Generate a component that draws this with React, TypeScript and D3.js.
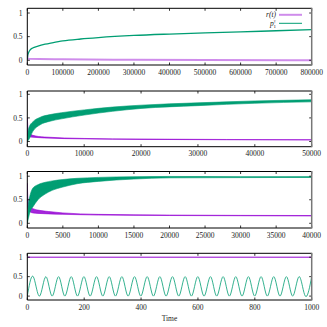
import React from "react";
import * as d3 from "d3";

// ---------- data ----------
// Panel 1 (0..800000)
const p1Green: [number, number][] = [
  [0, 0.02], [1000, 0.1], [3000, 0.15], [7000, 0.21], [15000, 0.26], [30000, 0.3],
  [50000, 0.34], [70000, 0.37], [100000, 0.41], [150000, 0.45], [200000, 0.48],
  [300000, 0.525], [400000, 0.555], [500000, 0.58], [600000, 0.6], [700000, 0.625], [800000, 0.648],
];
const p1Purple: [number, number][] = [
  [0, 0.2], [500, 0.05], [3000, 0.03], [100000, 0.02], [300000, 0.012], [500000, 0.006], [800000, 0.0],
];
// Panel 2 (0..50000): [t, low, high]
const p2Green: [number, number, number][] = [
  [0, 0.0, 0.1], [300, 0.05, 0.3], [1000, 0.22, 0.42], [2200, 0.35, 0.51], [4000, 0.43, 0.57],
  [6000, 0.48, 0.61], [10000, 0.56, 0.67], [15000, 0.64, 0.73], [20000, 0.7, 0.77],
  [30000, 0.76, 0.82], [40000, 0.81, 0.86], [50000, 0.84, 0.885],
];
const p2Purple: [number, number, number][] = [
  [0, 0.15, 0.5], [200, 0.1, 0.2], [1000, 0.09, 0.13], [3000, 0.075, 0.095], [10000, 0.055, 0.065],
  [20000, 0.045, 0.052], [35000, 0.037, 0.043], [50000, 0.032, 0.038],
];
// Panel 3 (0..40000): [t, low, high]
const p3Green: [number, number, number][] = [
  [0, 0, 0.05], [150, 0.1, 0.4], [400, 0.25, 0.6], [800, 0.35, 0.75], [1500, 0.5, 0.82],
  [2500, 0.62, 0.87], [3500, 0.7, 0.9], [5000, 0.77, 0.93], [7000, 0.84, 0.955],
  [10000, 0.89, 0.975], [15000, 0.94, 0.99], [20000, 0.965, 0.995], [30000, 0.97, 0.99], [40000, 0.975, 0.99],
];
const p3Purple: [number, number, number][] = [
  [0, 0.4, 0.85], [100, 0.3, 0.5], [300, 0.25, 0.36], [800, 0.22, 0.31], [1500, 0.21, 0.28],
  [3000, 0.2, 0.25], [5000, 0.19, 0.22], [10000, 0.175, 0.19], [20000, 0.165, 0.175], [40000, 0.155, 0.165],
];
// Panel 4 (0..1000): extremes of the oscillation
const p4PeakTimes = [21, 65.5, 110, 154.5, 199, 243.5, 288, 332.5, 377, 421.5, 466, 510.5, 555, 599.5, 644, 688.5, 733, 777.5, 822, 866.5, 911, 955.5, 1000];
const p4TroughTimes = [0, 43, 87.5, 132, 176.5, 221, 265.5, 310, 354.5, 399, 443.5, 488, 532.5, 577, 621.5, 666, 710.5, 755, 799.5, 844, 888.5, 933, 977.5];
const p4PeakValue = 0.5;
const p4TroughValue = 0;
const p4Purple: [number, number][] = [[0, 1], [1000, 1]];

const xTicks1 = [0, 100000, 200000, 300000, 400000, 500000, 600000, 700000, 800000];
const xTicks2 = [0, 10000, 20000, 30000, 40000, 50000];
const xTicks3 = [0, 5000, 10000, 15000, 20000, 25000, 30000, 35000, 40000];
const xTicks4 = [0, 200, 400, 600, 800, 1000];
const yTicks = [0, 0.5, 1];
const yTickLabels = ["0", "0.5", "1"];
const xLabel = "Time";

// ---------- style ----------
const GREEN = "#009e73";
const PURPLE = "#9400d3";
const FONT = "'Liberation Serif', 'DejaVu Serif', serif";
const FS = 7.5;
const L = 27.3, R = 311.7;

type Panel = { id: string; top: number; bottom: number; yd: [number, number]; xMax: number; ticks: number[] };
const panels: Panel[] = [
  { id: "a", top: 8.3, bottom: 65, yd: [-0.1, 1.1], xMax: 800000, ticks: xTicks1 },
  { id: "b", top: 91, bottom: 146.7, yd: [-0.11, 1.07], xMax: 50000, ticks: xTicks2 },
  { id: "c", top: 171.5, bottom: 228, yd: [-0.1, 1.1], xMax: 40000, ticks: xTicks3 },
  { id: "d", top: 253.3, bottom: 300, yd: [-0.1, 1.1], xMax: 1000, ticks: xTicks4 },
];

function Frame({ p, x, y }: { p: Panel; x: d3.ScaleLinear<number, number>; y: d3.ScaleLinear<number, number> }) {
  const tl = 2.5;
  return (
    <g>
      {p.ticks.map((t) => (
        <g key={"x" + t}>
          <line x1={x(t)} x2={x(t)} y1={p.bottom} y2={p.bottom - tl} stroke="#000" strokeWidth={0.8} />
          <line x1={x(t)} x2={x(t)} y1={p.top} y2={p.top + tl} stroke="#000" strokeWidth={0.8} />
          <text x={x(t)} y={p.bottom + 9.6} textAnchor="middle" fontFamily={FONT} fontSize={FS} fill="#222">{t}</text>
        </g>
      ))}
      {yTicks.map((t, i) => (
        <g key={"y" + t}>
          <line x1={L} x2={L + tl} y1={y(t)} y2={y(t)} stroke="#000" strokeWidth={0.8} />
          <line x1={R} x2={R - tl} y1={y(t)} y2={y(t)} stroke="#000" strokeWidth={0.8} />
          <text x={22.5} y={y(t) + 2.6} textAnchor="end" fontFamily={FONT} fontSize={FS} fill="#222">{yTickLabels[i]}</text>
        </g>
      ))}
      <path d={`M${R},${p.top}H${L}V${p.bottom}H${R}`} fill="none" stroke="#000" strokeWidth={1} />
      <line x1={R} x2={R} y1={p.top - 0.5} y2={p.bottom + 0.5} stroke="#777" strokeWidth={1.5} />
    </g>
  );
}

export default function App() {
  const scales = panels.map((p) => ({
    x: d3.scaleLinear().domain([0, p.xMax]).range([L, R]),
    y: d3.scaleLinear().domain(p.yd).range([p.bottom, p.top]),
  }));

  const line2 = (x: any, y: any, curve = d3.curveMonotoneX) =>
    d3.line<[number, number]>().x((d) => x(d[0])).y((d) => y(d[1])).curve(curve);
  const band = (x: any, y: any) =>
    d3.area<[number, number, number]>().x((d) => x(d[0])).y0((d) => y(d[1])).y1((d) => y(d[2])).curve(d3.curveMonotoneX);
  const mid = (x: any, y: any) =>
    d3.line<[number, number, number]>().x((d) => x(d[0])).y((d) => y((d[1] + d[2]) / 2)).curve(d3.curveMonotoneX);

  const p4Extremes: [number, number][] = [
    ...p4PeakTimes.map((t) => [t, p4PeakValue] as [number, number]),
    ...p4TroughTimes.map((t) => [t, p4TroughValue] as [number, number]),
  ].sort((a, b) => a[0] - b[0]);

  const [s1, s2, s3, s4] = scales;

  return (
    <svg width={327} height={327} style={{ position: "absolute", left: 0, top: 0, background: "#fff" }}>
      <defs>
        {panels.map((p) => (
          <clipPath id={"clip" + p.id} key={p.id}>
            <rect x={L} y={p.top} width={R - L} height={p.bottom - p.top} />
          </clipPath>
        ))}
      </defs>

      {/* Panel 1 */}
      <g clipPath="url(#clipa)">
        <path d={line2(s1.x, s1.y)(p1Purple) || ""} fill="none" stroke={PURPLE} strokeOpacity={0.45} strokeWidth={2} />
        <path d={line2(s1.x, s1.y)(p1Green) || ""} fill="none" stroke={GREEN} strokeWidth={1.3} />
      </g>
      <Frame p={panels[0]} x={s1.x} y={s1.y} />
      <g fontFamily={FONT} fontSize={FS} fill="#222">
        <text x={276} y={17} textAnchor="end" fontStyle="italic">r(t)</text>
        <line x1={279} x2={302} y1={14.8} y2={14.8} stroke={PURPLE} strokeOpacity={0.45} strokeWidth={2} />
        <text x={276} y={26} textAnchor="end">
          <tspan fontStyle="italic">p</tspan>
          <tspan fontSize={5} dy={-3.5} dx={-0.2}>†</tspan>
          <tspan fontSize={5} dy={5.2} dx={-2.6}>1</tspan>
        </text>
        <line x1={279} x2={302} y1={23.3} y2={23.3} stroke={GREEN} strokeWidth={1} />
      </g>

      {/* Panel 2 */}
      <g clipPath="url(#clipb)">
        <path d={band(s2.x, s2.y)(p2Purple) || ""} fill={PURPLE} fillOpacity={0.85} stroke={PURPLE} strokeOpacity={0.6} strokeWidth={1} />
        <path d={band(s2.x, s2.y)(p2Green) || ""} fill={GREEN} stroke={GREEN} strokeWidth={0.6} />
      </g>
      <Frame p={panels[1]} x={s2.x} y={s2.y} />

      {/* Panel 3 */}
      <g clipPath="url(#clipc)">
        <path d={band(s3.x, s3.y)(p3Purple) || ""} fill={PURPLE} fillOpacity={0.85} stroke={PURPLE} strokeOpacity={0.6} strokeWidth={1} />
        <path d={band(s3.x, s3.y)(p3Green) || ""} fill={GREEN} stroke={GREEN} strokeWidth={0.6} />
        <path d={mid(s3.x, s3.y)(p3Green) || ""} fill="none" stroke={GREEN} strokeWidth={0.8} strokeOpacity={0.6} />
      </g>
      <Frame p={panels[2]} x={s3.x} y={s3.y} />

      {/* Panel 4 */}
      <g clipPath="url(#clipd)">
        <path d={line2(s4.x, s4.y)(p4Purple) || ""} fill="none" stroke={PURPLE} strokeWidth={1} />
        <path d={line2(s4.x, s4.y, d3.curveNatural)(p4Extremes) || ""} fill="none" stroke={GREEN} strokeOpacity={0.8} strokeWidth={1} />
      </g>
      <Frame p={panels[3]} x={s4.x} y={s4.y} />
      <text x={(L + R) / 2} y={321} textAnchor="middle" fontFamily={FONT} fontSize={FS} fill="#222">{xLabel}</text>
    </svg>
  );
}
